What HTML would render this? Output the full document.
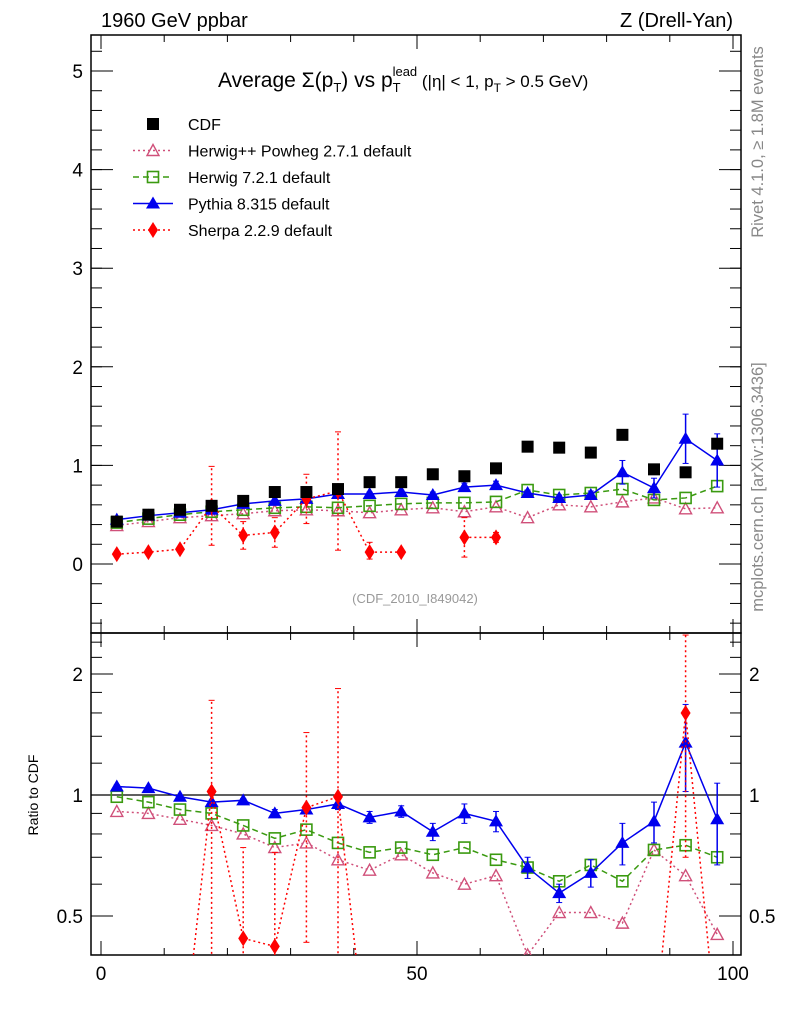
<!DOCTYPE html>
<html><head><meta charset="utf-8"><style>
html,body{margin:0;background:#fff;width:786px;height:1024px;overflow:hidden;}
svg{display:block;font-family:"Liberation Sans",sans-serif;}
</style></head><body>
<svg id="chart" width="786" height="1024" viewBox="0 0 786 1024">
<rect x="0" y="0" width="786" height="1024" fill="#fff"/>
<text x="101" y="27" font-size="20">1960 GeV ppbar</text>
<text x="733" y="27" font-size="20" text-anchor="end">Z (Drell-Yan)</text>
<text x="218" y="87" font-size="21">Average Σ(p<tspan font-size="13" dy="5">T</tspan><tspan dy="-5">) vs p</tspan><tspan font-size="13" dy="5">T</tspan><tspan font-size="13" dx="-8" dy="-16">lead</tspan><tspan font-size="17" dy="11"> (|η| &lt; 1, p</tspan><tspan font-size="12" dy="5">T</tspan><tspan font-size="17" dy="-5"> &gt; 0.5 GeV)</tspan></text>
<text x="415" y="603" font-size="13" fill="#999" text-anchor="middle">(CDF_2010_I849042)</text>
<text transform="translate(763,142) rotate(-90)" font-size="16.5" fill="#888" text-anchor="middle">Rivet 4.1.0, ≥ 1.8M events</text>
<text transform="translate(763,487) rotate(-90)" font-size="16.5" fill="#888" text-anchor="middle">mcplots.cern.ch [arXiv:1306.3436]</text>
<text transform="translate(38,795) rotate(-90)" font-size="14" text-anchor="middle">Ratio to CDF</text>
<g id="main"></g>
<g id="ratio"></g>
<g id="legend"></g>
</svg>
<script>
const bins = [2.5,7.5,12.5,17.5,22.5,27.5,32.5,37.5,42.5,47.5,52.5,57.5,62.5,67.5,72.5,77.5,82.5,87.5,92.5,97.5];
const cdfVals = [0.43,0.50,0.55,0.59,0.64,0.73,0.73,0.76,0.83,0.83,0.91,0.89,0.97,1.19,1.18,1.13,1.31,0.96,0.93,1.22];
const pythiaVals = [0.45,0.49,0.52,0.55,0.61,0.64,0.66,0.71,0.71,0.73,0.70,0.78,0.80,0.72,0.67,0.70,0.93,0.77,1.27,1.05];
const pythiaErr = [0.01,0.01,0.01,0.01,0.01,0.01,0.01,0.02,0.02,0.02,0.03,0.04,0.04,0.03,0.03,0.04,0.12,0.10,0.25,0.27];
const herwig7Vals = [0.42,0.46,0.50,0.53,0.55,0.57,0.58,0.57,0.59,0.61,0.62,0.62,0.63,0.75,0.70,0.72,0.76,0.65,0.67,0.79];
const herwigppVals = [0.39,0.43,0.47,0.49,0.51,0.54,0.55,0.54,0.52,0.55,0.57,0.53,0.58,0.47,0.60,0.58,0.63,0.67,0.56,0.57];
const sherpaVals = [0.10,0.12,0.15,0.59,0.29,0.32,0.66,0.74,0.12,0.12,null,0.27,0.27,null,null,null,null,null,null,null];
const sherpaErr = [0.01,0.01,0.01,0.40,0.14,0.15,0.25,0.60,0.10,0.01,0,0.20,0.05,0,0,0,0,0,0,0];
const pythiaRatio = [1.05,1.04,0.99,0.96,0.97,0.90,0.92,0.95,0.88,0.91,0.81,0.90,0.86,0.66,0.57,0.64,0.76,0.86,1.35,0.87];
const pythiaRatioErr = [0.01,0.01,0.01,0.01,0.01,0.02,0.02,0.03,0.03,0.03,0.04,0.05,0.05,0.04,0.03,0.05,0.09,0.10,0.33,0.20];
const herwig7Ratio = [0.99,0.96,0.92,0.90,0.84,0.78,0.82,0.76,0.72,0.74,0.71,0.74,0.69,0.66,0.61,0.67,0.61,0.73,0.75,0.70];
const herwigppRatio = [0.91,0.90,0.87,0.84,0.80,0.74,0.76,0.69,0.65,0.71,0.64,0.60,0.63,0.40,0.51,0.51,0.48,0.73,0.63,0.45];
const sherpaRatio = [0.2,0.2,0.2,1.02,0.44,0.42,0.93,0.99,0.2,0.2,null,0.2,0.2,null,null,null,null,0.25,1.60,0.25];
const sherpaRatioErr = [0,0,0,0.7,0.3,0.3,0.5,0.85,0,0,0,0.1,0,0,0,0,0,0,0.9,0];
const mainTicks = [0,1,2,3,4,5];
const ratioTicks = [0.5,1,2];
const xTicks = [0,50,100];

const NS='http://www.w3.org/2000/svg';
const X0=91,X1=741,MT=35,MB=633,RB=955;
const xs=v=>101+(v)*6.32;
const ym=v=>564-98.6*v;
const yr=v=>795-121*Math.log2(v);
function mk(p,t,a){const e=document.createElementNS(NS,t);for(const k in a)e.setAttribute(k,a[k]);p.appendChild(e);return e;}
const main=document.getElementById('main'), ratio=document.getElementById('ratio'), leg=document.getElementById('legend');
const defs=mk(document.getElementById('chart'),'defs',{});
const c1=mk(defs,'clipPath',{id:'cm'});mk(c1,'rect',{x:X0,y:MT,width:X1-X0,height:MB-MT});
const c2=mk(defs,'clipPath',{id:'cr'});mk(c2,'rect',{x:X0,y:MB,width:X1-X0,height:RB-MB});

function frame(g,top,bot,ticks,yf,minor,isLog){
  const r=mk(g,'rect',{x:X0,y:top,width:X1-X0,height:bot-top,fill:'none',stroke:'#000','stroke-width':1.5});
  
  ticks.forEach(t=>{const y=yf(t);
    mk(g,'line',{x1:X0,x2:X0+22,y1:y,y2:y,stroke:'#000'});mk(g,'line',{x1:X1-22,x2:X1,y1:y,y2:y,stroke:'#000'});
    const tl=mk(g,'text',{x:X0-8,y:y+7,'font-size':19,'text-anchor':'end'});tl.textContent=t;
    
    if(isLog){const tr=mk(g,'text',{x:X1+8,y:y+7,'font-size':19});tr.textContent=t;
      }
  });
  minor.forEach(t=>{const y=yf(t);if(y<top||y>bot)return;
    mk(g,'line',{x1:X0,x2:X0+11,y1:y,y2:y,stroke:'#000'});mk(g,'line',{x1:X1-11,x2:X1,y1:y,y2:y,stroke:'#000'});});
  for(let v=0;v<=100;v+=10){const x=xs(v),L=v%50==0?14:7;
    mk(g,'line',{x1:x,x2:x,y1:bot,y2:bot-L,stroke:'#000'});mk(g,'line',{x1:x,x2:x,y1:top,y2:top+L,stroke:'#000'});}
}
const mm=[];for(let v=-0.6;v<=5.3;v+=0.2)mm.push(+v.toFixed(1));
frame(main,MT,MB,mainTicks,ym,mm,false);
const rm=[0.4,0.6,0.7,0.8,0.9,1.2,1.4,1.6,1.8,2.2,2.4];
frame(ratio,MB,RB,ratioTicks,yr,rm,true);
xTicks.forEach(t=>{const tl=mk(ratio,'text',{x:xs(t),y:980,'font-size':19,'text-anchor':'middle'});tl.textContent=t;
  });
mk(ratio,'line',{x1:X0,x2:X1,y1:yr(1),y2:yr(1),stroke:'#000','stroke-width':1.2});

function marker(g,kind,x,y,col){
  if(kind=='sq')return mk(g,'rect',{x:x-6,y:y-6,width:12,height:12,fill:'#000'});
  if(kind=='osq')return mk(g,'rect',{x:x-5.5,y:y-5.5,width:11,height:11,fill:'none',stroke:col,'stroke-width':1.6});
  if(kind=='otri')return mk(g,'polygon',{points:`${x},${y-6} ${x+6},${y+5} ${x-6},${y+5}`,fill:'none',stroke:col,'stroke-width':1.4});
  if(kind=='tri')return mk(g,'polygon',{points:`${x},${y-7} ${x+7},${y+5} ${x-7},${y+5}`,fill:col});
  if(kind=='dia')return mk(g,'polygon',{points:`${x},${y-8} ${x+5},${y} ${x},${y+8} ${x-5},${y}`,fill:col});
}
function series(g,clip,name,vals,yf,col,dash,kind,err,line){
  const sg=mk(g,'g',{'clip-path':`url(#${clip})`});
  
  if(line){let segs=[],cur=[];
    vals.forEach((v,i)=>{if(v==null){if(cur.length)segs.push(cur);cur=[];}else cur.push(xs(bins[i])+','+yf(v));});
    if(cur.length)segs.push(cur);
    segs.forEach(s=>mk(sg,'polyline',{points:s.join(' '),fill:'none',stroke:col,'stroke-width':1.5,'stroke-dasharray':dash}));}
  vals.forEach((v,i)=>{if(v==null)return;const x=xs(bins[i]),y=yf(v);
    if(err&&err[i]>0){const a=yf(Math.max(v-err[i],0.05)),b=yf(v+err[i]);
      mk(sg,'line',{x1:x,x2:x,y1:a,y2:b,stroke:col,'stroke-width':1.5,'stroke-dasharray':dash});
      mk(sg,'line',{x1:x-3,x2:x+3,y1:a,y2:a,stroke:col});mk(sg,'line',{x1:x-3,x2:x+3,y1:b,y2:b,stroke:col});}
    const m=marker(sg,kind,x,y,col);
    });
}
const PINK='#d0507a',GREEN='#3a9a10',BLUE='#0000ee',RED='#ff0000';
series(main,'cm','herwigpp-series',herwigppVals,ym,PINK,'2,3','otri',null,true);
series(main,'cm','herwig7-series',herwig7Vals,ym,GREEN,'6,4','osq',null,true);
series(main,'cm','pythia-series',pythiaVals,ym,BLUE,'','tri',pythiaErr,true);
series(main,'cm','sherpa-series',sherpaVals,ym,RED,'2,3','dia',sherpaErr,true);
series(main,'cm','cdf-series',cdfVals,ym,'#000','','sq',null,false);
series(ratio,'cr','herwigpp-ratio',herwigppRatio,yr,PINK,'2,3','otri',null,true);
series(ratio,'cr','herwig7-ratio',herwig7Ratio,yr,GREEN,'6,4','osq',null,true);
series(ratio,'cr','pythia-ratio',pythiaRatio,yr,BLUE,'','tri',pythiaRatioErr,true);
series(ratio,'cr','sherpa-ratio',sherpaRatio,yr,RED,'2,3','dia',sherpaRatioErr,true);

const legNames=['CDF','Herwig++ Powheg 2.7.1 default','Herwig 7.2.1 default','Pythia 8.315 default','Sherpa 2.2.9 default'];
const legStyle=[['#000','','sq',false],[PINK,'2,3','otri',true],[GREEN,'6,4','osq',true],[BLUE,'','tri',true],[RED,'2,3','dia',true]];
legNames.forEach((n,i)=>{const y=124+i*26.5,s=legStyle[i];
  const g=mk(leg,'g',{});
  if(s[3])mk(g,'line',{x1:133,x2:173,y1:y,y2:y,stroke:s[0],'stroke-width':1.5,'stroke-dasharray':s[1]});
  marker(g,s[2],153,y,s[0]);
  const t=mk(g,'text',{x:188,y:y+6,'font-size':16});t.textContent=n;});
</script>
</body></html>
